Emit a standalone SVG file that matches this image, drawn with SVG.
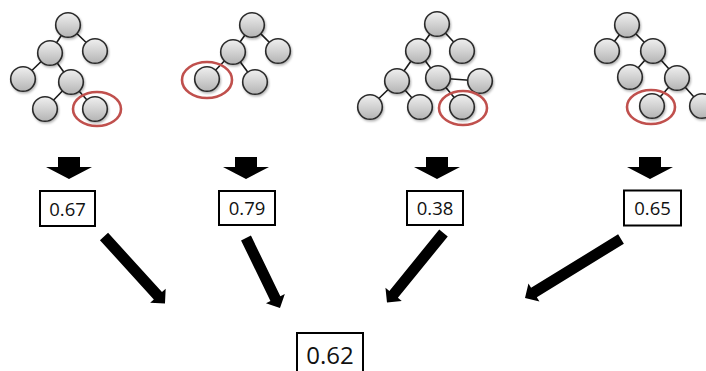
<svg xmlns="http://www.w3.org/2000/svg" width="706" height="371" viewBox="0 0 706 371">
  <defs>
    <linearGradient id="nodeFill" x1="0" y1="0" x2="0" y2="1">
      <stop offset="0" stop-color="#f0f0f0"/>
      <stop offset="1" stop-color="#b4b4b4"/>
    </linearGradient>
    <filter id="shadow" x="-30%" y="-30%" width="160%" height="160%">
      <feDropShadow dx="1" dy="1.5" stdDeviation="1" flood-color="#000" flood-opacity="0.3"/>
    </filter>
    <style>
      .edge { stroke: #1a1a1a; stroke-width: 1.6; fill: none; }
      .tn { fill: url(#nodeFill); stroke: #2b2b2b; stroke-width: 1.6; filter: url(#shadow); }
      .sel { fill: none; stroke: #c0504d; stroke-width: 2.6; }
      .box { fill: #fff; stroke: #000; stroke-width: 2; }
      .val { font-family: "Open Sans", "Liberation Sans", sans-serif; font-size: 18.5px; fill: #111; text-anchor: middle; }
      .big { font-size: 24px; }
      .arr { fill: #000; }
    </style>
  </defs>
  <rect width="706" height="371" fill="#fff"/>

  <!-- Tree 1 -->
  <g id="tree1">
    <line class="edge" x1="68" y1="25" x2="50" y2="53"/>
    <line class="edge" x1="68" y1="25" x2="95" y2="51"/>
    <line class="edge" x1="50" y1="53" x2="23" y2="79"/>
    <line class="edge" x1="50" y1="53" x2="71" y2="82"/>
    <line class="edge" x1="71" y1="82" x2="45" y2="109"/>
    <line class="edge" x1="71" y1="82" x2="95" y2="109"/>
    <circle class="tn" cx="68" cy="25" r="12.3"/>
    <circle class="tn" cx="50" cy="53" r="12.3"/>
    <circle class="tn" cx="95" cy="51" r="12.3"/>
    <circle class="tn" cx="23" cy="79" r="12.3"/>
    <circle class="tn" cx="71" cy="82" r="12.3"/>
    <circle class="tn" cx="45" cy="109" r="12.3"/>
    <circle class="tn" cx="95" cy="109" r="12.3"/>
    <ellipse class="sel" cx="97" cy="109" rx="24" ry="17"/>
  </g>

  <!-- Tree 2 -->
  <g id="tree2">
    <line class="edge" x1="252" y1="25" x2="233" y2="52"/>
    <line class="edge" x1="252" y1="25" x2="278" y2="51"/>
    <line class="edge" x1="233" y1="52" x2="207" y2="79"/>
    <line class="edge" x1="233" y1="52" x2="255" y2="82"/>
    <circle class="tn" cx="252" cy="25" r="12.3"/>
    <circle class="tn" cx="233" cy="52" r="12.3"/>
    <circle class="tn" cx="278" cy="51" r="12.3"/>
    <circle class="tn" cx="207" cy="79" r="12.3"/>
    <circle class="tn" cx="255" cy="82" r="12.3"/>
    <ellipse class="sel" cx="207" cy="80" rx="25" ry="18"/>
  </g>

  <!-- Tree 3 -->
  <g id="tree3">
    <line class="edge" x1="437" y1="24" x2="418" y2="51"/>
    <line class="edge" x1="437" y1="24" x2="462" y2="51"/>
    <line class="edge" x1="418" y1="51" x2="397" y2="81"/>
    <line class="edge" x1="418" y1="51" x2="438" y2="78"/>
    <line class="edge" x1="397" y1="81" x2="370" y2="107"/>
    <line class="edge" x1="397" y1="81" x2="420" y2="107"/>
    <line class="edge" x1="438" y1="78" x2="480" y2="81"/>
    <line class="edge" x1="438" y1="78" x2="462" y2="107"/>
    <circle class="tn" cx="437" cy="24" r="12.3"/>
    <circle class="tn" cx="418" cy="51" r="12.3"/>
    <circle class="tn" cx="462" cy="51" r="12.3"/>
    <circle class="tn" cx="397" cy="81" r="12.3"/>
    <circle class="tn" cx="438" cy="78" r="12.3"/>
    <circle class="tn" cx="480" cy="81" r="12.3"/>
    <circle class="tn" cx="370" cy="107" r="12.3"/>
    <circle class="tn" cx="420" cy="107" r="12.3"/>
    <circle class="tn" cx="462" cy="107" r="12.3"/>
    <ellipse class="sel" cx="463" cy="108" rx="24" ry="17"/>
  </g>

  <!-- Tree 4 -->
  <g id="tree4">
    <line class="edge" x1="627" y1="25" x2="607" y2="51"/>
    <line class="edge" x1="627" y1="25" x2="653" y2="51"/>
    <line class="edge" x1="653" y1="51" x2="630" y2="77"/>
    <line class="edge" x1="653" y1="51" x2="677" y2="78"/>
    <line class="edge" x1="677" y1="78" x2="652" y2="106"/>
    <line class="edge" x1="677" y1="78" x2="702" y2="106"/>
    <circle class="tn" cx="627" cy="25" r="12.3"/>
    <circle class="tn" cx="607" cy="51" r="12.3"/>
    <circle class="tn" cx="653" cy="51" r="12.3"/>
    <circle class="tn" cx="630" cy="77" r="12.3"/>
    <circle class="tn" cx="677" cy="78" r="12.3"/>
    <circle class="tn" cx="652" cy="106" r="12.3"/>
    <circle class="tn" cx="702" cy="106" r="12.3"/>
    <ellipse class="sel" cx="651" cy="107" rx="24" ry="17"/>
  </g>

  <!-- Score boxes -->
  <g id="score1">
    <rect class="box" x="40" y="191" width="55" height="35"/>
    <text class="val" x="67.5" y="215.5">0.67</text>
  </g>
  <g id="score2">
    <rect class="box" x="219" y="191" width="56" height="34"/>
    <text class="val" x="247" y="215">0.79</text>
  </g>
  <g id="score3">
    <rect class="box" x="407" y="191" width="56" height="34"/>
    <text class="val" x="435" y="215">0.38</text>
  </g>
  <g id="score4">
    <rect class="box" x="624" y="190.5" width="57" height="35"/>
    <text class="val" x="652.5" y="215">0.65</text>
  </g>
  <g id="result">
    <rect class="box" x="297" y="333" width="66" height="42"/>
    <text class="val big" x="330" y="363.5">0.62</text>
  </g>

  <!-- Connectors -->
  <g id="connectors">
    <polygon class="arr" points="58,157 80,157 80,167 92,167 69,179 46,167 58,167"/>
    <polygon class="arr" points="235,157 257,157 257,167 269,167 246,179 223,167 235,167"/>
    <polygon class="arr" points="426,157 448,157 448,167 460,167 437,179 414,167 426,167"/>
    <polygon class="arr" points="639,157 661,157 661,167 673,167 650,179 627,167 639,167"/>

    <path class="arr" transform="translate(104,236.5) rotate(47.7)" d="M0,-5.5 H80.1 V-10.5 L90.6,0 L80.1,10.5 V5.5 H0 Z"/>
    <path class="arr" transform="translate(246,238) rotate(64.1)" d="M0,-5.5 H67.3 V-10.5 L77.8,0 L67.3,10.5 V5.5 H0 Z"/>
    <path class="arr" transform="translate(443.5,233) rotate(129.1)" d="M0,-5.5 H79.1 V-10.5 L89.6,0 L79.1,10.5 V5.5 H0 Z"/>
    <path class="arr" transform="translate(621,239) rotate(148.4)" d="M0,-5.5 H102.2 V-10.5 L112.7,0 L102.2,10.5 V5.5 H0 Z"/>
  </g>
</svg>
